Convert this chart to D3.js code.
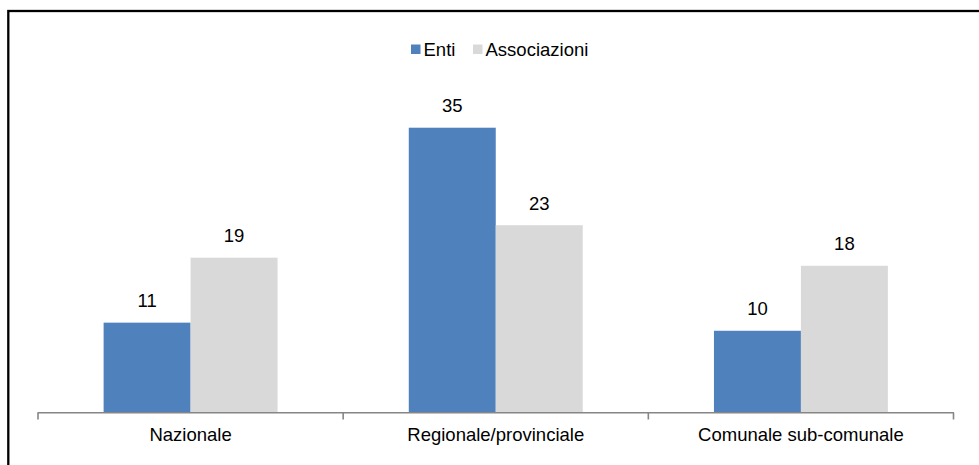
<!DOCTYPE html>
<html>
<head>
<meta charset="utf-8">
<script src="https://cdn.jsdelivr.net/npm/d3@7"></script>
<style>
  html, body { margin: 0; padding: 0; background: #fff; }
  svg { display: block; }
  text { font-family: "Liberation Sans", Arial, sans-serif; fill: #000; }
</style>
</head>
<body>
<svg id="chart" width="979" height="465"></svg>
<script>
const categories = ["Nazionale", "Regionale/provinciale", "Comunale sub-comunale"];
const seriesNames = ["Enti", "Associazioni"];
const enti = [11, 35, 10];
const associazioni = [19, 23, 18];
const seriesColors = ["#4F81BD", "#D9D9D9"];

const W = 979, H = 465;
const svg = d3.select("#chart");
const fontSize = 18.5;

// outer border (right and bottom edges are cut off in the original)
svg.append("rect")
  .attr("x", 8.3).attr("y", 11)
  .attr("width", 1000).attr("height", 1000)
  .attr("fill", "none").attr("stroke", "#000").attr("stroke-width", 2.3);

const x0 = d3.scaleBand().domain(categories).range([38, 953.5])
  .paddingInner(0.43).paddingOuter(0.215);
const x1 = d3.scaleBand().domain(seriesNames).range([0, x0.bandwidth()]);
const y = d3.scaleLinear().domain([0, 40]).range([412, 87.1]);

const seriesData = [enti, associazioni];
const rows = categories.map((c, i) => ({
  cat: c,
  vals: seriesNames.map((s, j) => ({ s, v: seriesData[j][i], color: seriesColors[j] }))
}));

const g = svg.append("g");
const groups = g.selectAll("g.cat").data(rows).join("g")
  .attr("transform", d => `translate(${x0(d.cat)},0)`);

groups.selectAll("rect").data(d => d.vals).join("rect")
  .attr("x", d => x1(d.s))
  .attr("width", x1.bandwidth())
  .attr("y", d => y(d.v))
  .attr("height", d => y(0) - y(d.v))
  .attr("fill", d => d.color);

groups.selectAll("text.val").data(d => d.vals).join("text")
  .attr("class", "val")
  .attr("x", d => x1(d.s) + x1.bandwidth() / 2)
  .attr("y", d => y(d.v) - 15.5)
  .attr("text-anchor", "middle")
  .attr("font-size", fontSize)
  .text(d => d.v);

// x axis
const axisY = 412.75;
const axisColor = "#868686";
const ax = svg.append("g");
ax.append("line")
  .attr("x1", 37.5).attr("x2", 954)
  .attr("y1", axisY).attr("y2", axisY)
  .attr("stroke", axisColor).attr("stroke-width", 1.6);
const boundaries = [x0.range()[0]].concat(categories.map(c => x0(c) - x0.step() * x0.paddingInner() / 2 + x0.step()));
boundaries.forEach(b => {
  ax.append("line")
    .attr("x1", b).attr("x2", b)
    .attr("y1", axisY).attr("y2", 419.5)
    .attr("stroke", axisColor).attr("stroke-width", 1.6);
});
ax.selectAll("text.cat").data(categories).join("text")
  .attr("class", "cat")
  .attr("x", d => x0(d) + x0.bandwidth() / 2)
  .attr("y", 440.5)
  .attr("text-anchor", "middle")
  .attr("font-size", fontSize)
  .text(d => d);

// legend
const legendItems = [
  { name: seriesNames[0], color: seriesColors[0], x: 411 },
  { name: seriesNames[1], color: seriesColors[1], x: 473 }
];
const lg = svg.append("g");
legendItems.forEach(it => {
  lg.append("rect").attr("x", it.x).attr("y", 44.5).attr("width", 9.5).attr("height", 9.5).attr("fill", it.color);
  lg.append("text").attr("x", it.x + 12.5).attr("y", 55.5).attr("font-size", fontSize).text(it.name);
});
</script>
</body>
</html>
